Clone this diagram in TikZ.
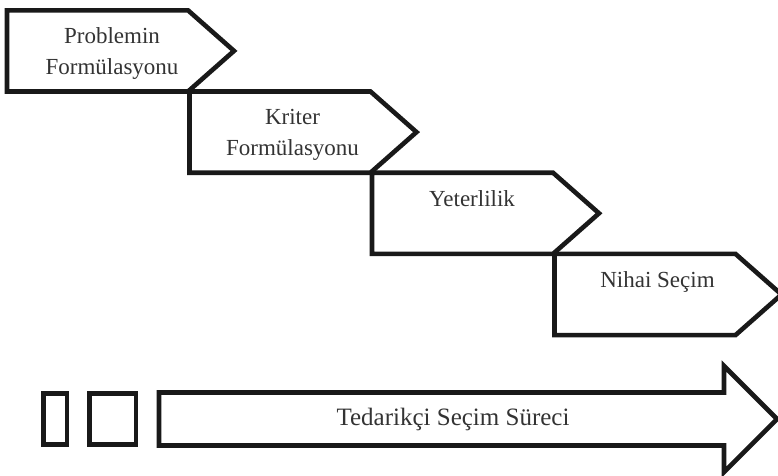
\documentclass[tikz,border=0pt]{standalone}
\usepackage{fontspec}
\setmainfont{Liberation Serif}
\begin{document}
\begin{tikzpicture}[x=1pt, y=-1pt,
  stage/.style={draw=black!90, line width=4.6pt, line join=miter},
  tag/.style={inner sep=0pt, anchor=base, align=center, text=black!80, font=\fontsize{23}{31}\selectfont}]

  \useasboundingbox (0,0) rectangle (778,475);

  % Stage corners
  \coordinate (C1) at (7,10.3);
  \coordinate (C2) at (189.5,91.5);
  \coordinate (C3) at (372,172.7);
  \coordinate (C4) at (554.5,253.9);

  % Stages
  \draw[stage] (C1) -- ++(181,0) -- ++(46,40.6) -- ++(-46,40.6) -- ++(-181,0) -- cycle;
  \draw[stage] (C2) -- ++(181,0) -- ++(46,40.6) -- ++(-46,40.6) -- ++(-181,0) -- cycle;
  \draw[stage] (C3) -- ++(181,0) -- ++(46,40.6) -- ++(-46,40.6) -- ++(-181,0) -- cycle;
  \draw[stage] (C4) -- ++(181,0) -- ++(46,40.6) -- ++(-46,40.6) -- ++(-181,0) -- cycle;

  % Labels (base = last line)
  \node[tag, xshift=105pt, yshift=-64.3pt] (T1) at (C1) {Problemin\\Formülasyonu};
  \node[tag, xshift=103pt, yshift=-64.3pt] (T2) at (C2) {Kriter\\Formülasyonu};
  \node[tag, xshift=100pt, yshift=-33.3pt] (T3) at (C3) {Yeterlilik};
  \node[tag, xshift=103pt, yshift=-33.3pt] (T4) at (C4) {Nihai Seçim};

  % Process arrow
  \draw[stage] (43.2,393.2) rectangle (66.8,444.5);
  \draw[stage] (89.2,393.2) rectangle (135.8,444.5);
  \draw[stage] (159,392.5) -- (724,392.5) -- (724,366) -- (777,419) -- (724,472) -- (724,445.5) -- (159,445.5) -- cycle;
  \node[tag, font=\fontsize{25}{30}\selectfont] (T5) at (453,425) {Tedarikçi Seçim Süreci};

\end{tikzpicture}
\end{document}
